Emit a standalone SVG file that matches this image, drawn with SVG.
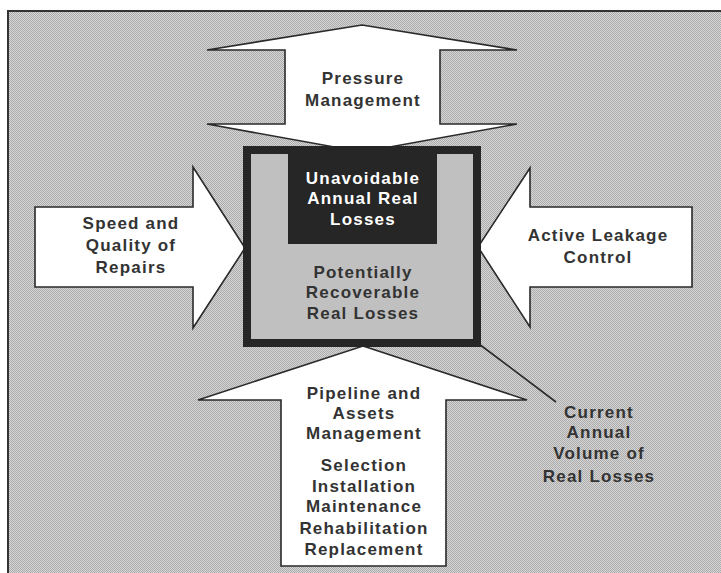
<svg xmlns="http://www.w3.org/2000/svg" width="721" height="573" viewBox="0 0 721 573">
<defs>
<pattern id="ht" patternUnits="userSpaceOnUse" width="2" height="2">
<rect width="2" height="2" fill="#d6d6d6"/>
<rect width="1" height="1" fill="#ababab"/>
<rect x="1" y="1" width="1" height="1" fill="#ababab"/>
</pattern>
<style>
.arrow{fill:#fff;stroke:#2a2a2a;stroke-width:1.6;stroke-linejoin:miter}
.t{font-family:"Liberation Sans",Arial,sans-serif;font-weight:bold;font-size:17px;fill:#333;text-anchor:middle;letter-spacing:1.2px}
.w{fill:#fff}
</style>
</defs>
<rect width="721" height="573" fill="#fff"/>
<rect x="8" y="11" width="720" height="570" fill="url(#ht)" stroke="#333" stroke-width="2"/>

<g id="top-arrow">
<path class="arrow" d="M362,25 L517,50 L440,50 L440,124 L517,124 L362,152 L207,124 L285,124 L285,50 L207,50 Z"/>
<text class="t" x="363" y="84">Pressure</text>
<text class="t" x="363" y="106">Management</text>
</g>

<g id="left-arrow">
<path class="arrow" d="M35,207 L193,207 L193,167 L245,248 L193,328 L193,287 L35,287 Z"/>
<text class="t" x="131" y="229">Speed and</text>
<text class="t" x="131" y="251">Quality of</text>
<text class="t" x="131" y="273">Repairs</text>
</g>

<g id="right-arrow">
<path class="arrow" d="M692,207 L530,207 L530,168 L478,247 L530,327 L530,287 L692,287 Z"/>
<text class="t" x="598" y="241">Active Leakage</text>
<text class="t" x="598" y="263">Control</text>
</g>

<g id="bottom-arrow">
<path class="arrow" d="M363,346 L527,400 L446,400 L446,566 L281,566 L281,400 L198,400 Z"/>
<text class="t" x="364" y="399">Pipeline and</text>
<text class="t" x="364" y="419">Assets</text>
<text class="t" x="364" y="439">Management</text>
<text class="t" x="364" y="471">Selection</text>
<text class="t" x="364" y="492">Installation</text>
<text class="t" x="364" y="512">Maintenance</text>
<text class="t" x="364" y="534">Rehabilitation</text>
<text class="t" x="364" y="555">Replacement</text>
</g>

<g id="losses-box">
<rect x="247" y="150" width="230" height="193" fill="#c0c0c0" stroke="#262626" stroke-width="8"/>
<rect x="288" y="150" width="149" height="94" fill="#262626"/>
<text class="t w" x="363" y="184">Unavoidable</text>
<text class="t w" x="363" y="204">Annual Real</text>
<text class="t w" x="363" y="225">Losses</text>
<text class="t" x="363" y="278">Potentially</text>
<text class="t" x="363" y="298">Recoverable</text>
<text class="t" x="363" y="319">Real Losses</text>
</g>

<g id="connectors">
<line x1="479" y1="344" x2="556" y2="402" stroke="#2a2a2a" stroke-width="1.6"/>
</g>

<g id="current-label">
<text class="t" x="599" y="418">Current</text>
<text class="t" x="599" y="438">Annual</text>
<text class="t" x="599" y="459">Volume of</text>
<text class="t" x="599" y="482">Real Losses</text>
</g>
</svg>
